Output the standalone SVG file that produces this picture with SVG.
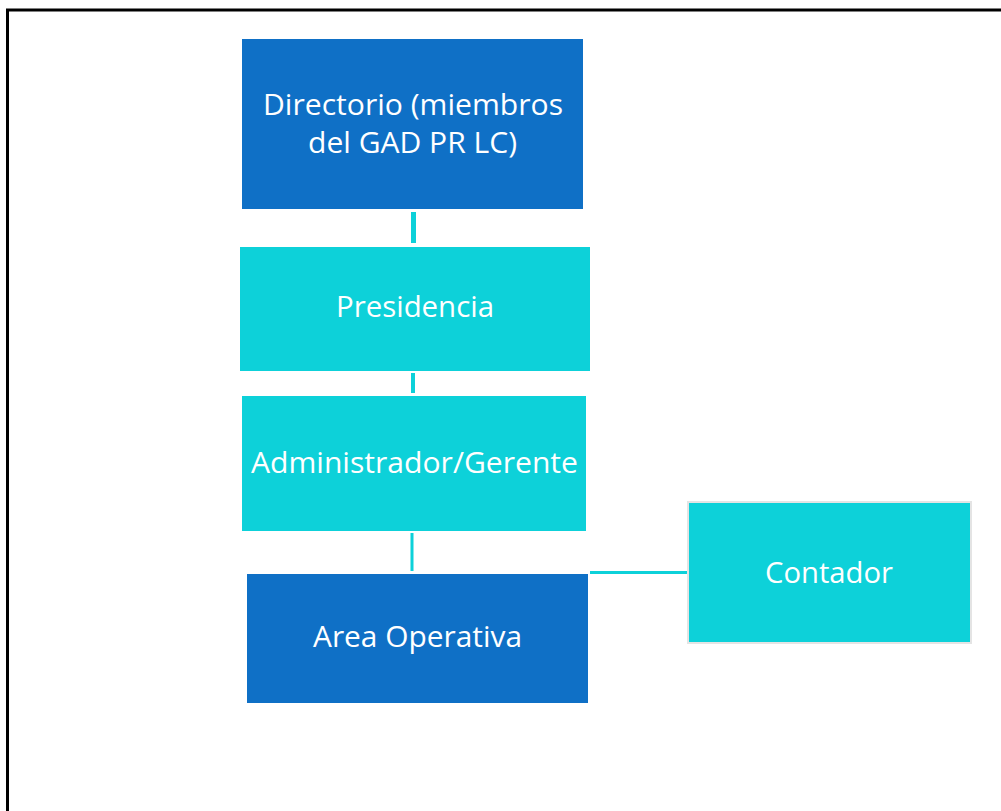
<svg xmlns="http://www.w3.org/2000/svg" width="1001" height="811" viewBox="0 0 1001 811">
  <style>
    .dark { fill: #0F70C6; }
    .light { fill: #0DD1D9; }
    .lbl { font-family: "Open Sans", "Noto Sans", sans-serif; font-size: 29px; fill: #FFFFFF; text-anchor: middle; }
    .wire { stroke: #0DD1D9; fill: none; }
  </style>
  <rect width="1001" height="811" fill="#FFFFFF"/>
  <!-- page frame -->
  <path d="M7.5 820 V10 H1010" fill="none" stroke="#000000" stroke-width="3"/>

  <g id="connectors">
    <line class="wire" x1="413.5" y1="212" x2="413.5" y2="243" stroke-width="5"/>
    <line class="wire" x1="413" y1="373" x2="413" y2="393" stroke-width="4"/>
    <line class="wire" x1="412" y1="533" x2="412" y2="571" stroke-width="3"/>
    <line class="wire" x1="590" y1="572.5" x2="687" y2="572.5" stroke-width="3"/>
  </g>

  <g id="directorio">
    <rect class="dark" x="242" y="39" width="341" height="170"/>
    <text class="lbl" x="413" y="115" textLength="300" lengthAdjust="spacingAndGlyphs">Directorio (miembros</text>
    <text class="lbl" x="412.5" y="153" textLength="209" lengthAdjust="spacingAndGlyphs">del GAD PR LC)</text>
  </g>
  <g id="presidencia">
    <rect class="light" x="240" y="247" width="350" height="124"/>
    <text class="lbl" x="415" y="317" textLength="158" lengthAdjust="spacingAndGlyphs">Presidencia</text>
  </g>
  <g id="administrador">
    <rect class="light" x="242" y="396" width="344" height="135"/>
    <text class="lbl" x="414.5" y="473" textLength="327" lengthAdjust="spacingAndGlyphs">Administrador/Gerente</text>
  </g>
  <g id="area-operativa">
    <rect class="dark" x="247" y="574" width="341" height="129"/>
    <text class="lbl" x="417.5" y="647" textLength="209" lengthAdjust="spacingAndGlyphs">Area Operativa</text>
  </g>
  <g id="contador">
    <rect class="light" x="688" y="502" width="283" height="141" stroke="#E4E4E4" stroke-width="2"/>
    <text class="lbl" x="829" y="583" textLength="128" lengthAdjust="spacingAndGlyphs">Contador</text>
  </g>
</svg>
